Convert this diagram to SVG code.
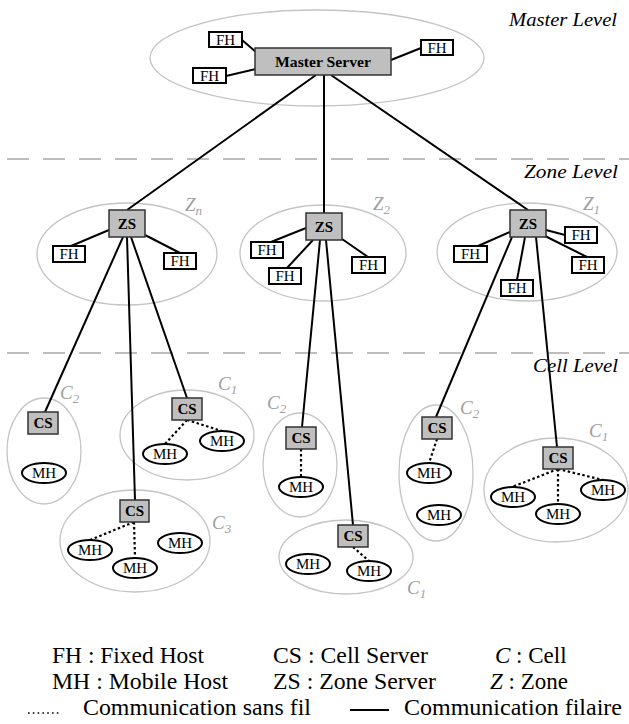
<svg xmlns="http://www.w3.org/2000/svg" width="629" height="724" viewBox="0 0 629 724">
<style>
.ell{fill:none;stroke:#c4c4c4;stroke-width:1.3}
.box{fill:#bfbfbf;stroke:#333;stroke-width:1.5}
.fh{fill:#fff;stroke:#000;stroke-width:2}
.mh{fill:#fff;stroke:#000;stroke-width:2}
.wire{stroke:#000;stroke-width:2;fill:none}
.wl{stroke:#000;stroke-width:2.2;stroke-dasharray:2.5 2.5;fill:none}
.lvl{stroke:#bdbdbd;stroke-width:2;stroke-dasharray:22 14}
.bt{font-weight:bold;font-size:15px;text-anchor:middle;fill:#000}
.ft{font-size:15px;text-anchor:middle;fill:#000}
.lv{font-style:italic;font-size:18px;text-anchor:end;fill:#000}
.gl{font-style:italic;font-size:19px;fill:#a0a0a0}
.sb{font-size:13px}
.lg{font-size:23px;fill:#000}
</style>
<g font-family="Liberation Serif, Tinos, Times New Roman, DejaVu Serif, serif">
<g id="separators">
<line class="lvl" x1="7" y1="159" x2="629" y2="159"/>
<line class="lvl" x1="7" y1="353" x2="629" y2="353"/>
<text class="lv" x="617" y="26" textLength="108" lengthAdjust="spacingAndGlyphs">Master Level</text>
<text class="lv" x="618" y="178" textLength="94" lengthAdjust="spacingAndGlyphs">Zone Level</text>
<text class="lv" x="618" y="372" textLength="85" lengthAdjust="spacingAndGlyphs">Cell Level</text>
</g>

<g id="regions">
<ellipse class="ell" cx="317" cy="58" rx="167" ry="48"/>
<ellipse class="ell" cx="127" cy="254" rx="90" ry="51"/>
<ellipse class="ell" cx="323" cy="253" rx="83" ry="48"/>
<ellipse class="ell" cx="527" cy="252" rx="90" ry="49"/>
<ellipse class="ell" cx="44" cy="451" rx="37" ry="53"/>
<ellipse class="ell" cx="187" cy="435" rx="67" ry="45"/>
<ellipse class="ell" cx="135" cy="541" rx="75" ry="51"/>
<ellipse class="ell" cx="300" cy="465" rx="37" ry="52"/>
<ellipse class="ell" cx="346" cy="557" rx="67" ry="37"/>
<ellipse class="ell" cx="436" cy="473" rx="37" ry="68"/>
<ellipse class="ell" cx="556" cy="490" rx="72" ry="52"/>
<text class="gl" x="185" y="211">Z<tspan class="sb" dy="4">n</tspan></text>
<text class="gl" x="373" y="210">Z<tspan class="sb" dy="4">2</tspan></text>
<text class="gl" x="583" y="210">Z<tspan class="sb" dy="4">1</tspan></text>
<text class="gl" x="60" y="399">C<tspan class="sb" dy="4">2</tspan></text>
<text class="gl" x="218" y="390">C<tspan class="sb" dy="4">1</tspan></text>
<text class="gl" x="212" y="529">C<tspan class="sb" dy="4">3</tspan></text>
<text class="gl" x="267" y="409">C<tspan class="sb" dy="4">2</tspan></text>
<text class="gl" x="407" y="594">C<tspan class="sb" dy="4">1</tspan></text>
<text class="gl" x="460" y="414">C<tspan class="sb" dy="4">2</tspan></text>
<text class="gl" x="589" y="437">C<tspan class="sb" dy="4">1</tspan></text>
</g>

<g id="connectors">
<line class="wire" x1="242" y1="40" x2="256" y2="52"/>
<line class="wire" x1="226" y1="76" x2="256" y2="69"/>
<line class="wire" x1="391" y1="60" x2="421" y2="48"/>
<line class="wire" x1="316" y1="75" x2="127" y2="210"/>
<line class="wire" x1="324" y1="75" x2="324" y2="213"/>
<line class="wire" x1="331" y1="75" x2="528" y2="210"/>
<line class="wire" x1="109" y1="230" x2="71" y2="246"/>
<line class="wire" x1="145" y1="235" x2="180" y2="253"/>
<line class="wire" x1="306" y1="228" x2="271" y2="242"/>
<line class="wire" x1="313" y1="240" x2="287" y2="268"/>
<line class="wire" x1="342" y1="239" x2="368" y2="257"/>
<line class="wire" x1="510" y1="232" x2="478" y2="246"/>
<line class="wire" x1="546" y1="230" x2="565" y2="235"/>
<line class="wire" x1="545" y1="236" x2="587" y2="257"/>
<line class="wire" x1="525" y1="237" x2="517" y2="280"/>
<line class="wire" x1="123" y1="237" x2="45" y2="412"/>
<line class="wire" x1="127" y1="237" x2="135" y2="500"/>
<line class="wire" x1="131" y1="237" x2="187" y2="398"/>
<line class="wire" x1="320" y1="240" x2="302" y2="427"/>
<line class="wire" x1="326" y1="240" x2="353" y2="525"/>
<line class="wire" x1="512" y1="237" x2="436" y2="417"/>
<line class="wire" x1="536" y1="237" x2="557" y2="447"/>
<line class="wl" x1="187" y1="420" x2="165" y2="444"/>
<line class="wl" x1="187" y1="420" x2="222" y2="431"/>
<line class="wl" x1="134" y1="522" x2="90" y2="540"/>
<line class="wl" x1="134" y1="522" x2="135" y2="558"/>
<line class="wl" x1="301" y1="449" x2="301" y2="477"/>
<line class="wl" x1="353" y1="547" x2="369" y2="561"/>
<line class="wl" x1="437" y1="439" x2="429" y2="463"/>
<line class="wl" x1="558" y1="469" x2="512" y2="487"/>
<line class="wl" x1="558" y1="469" x2="558" y2="504"/>
<line class="wl" x1="558" y1="469" x2="603" y2="480"/>
</g>

<g id="master-server"><rect class="box" x="255" y="48" width="136" height="27"/><text class="bt" x="323" y="67" textLength="96" lengthAdjust="spacingAndGlyphs">Master Server</text></g>
<g id="fh-m1"><rect class="fh" x="209" y="32" width="33" height="15"/><text class="ft" x="225.5" y="44.5">FH</text></g>
<g id="fh-m2"><rect class="fh" x="193" y="68" width="33" height="15"/><text class="ft" x="209.5" y="80.5">FH</text></g>
<g id="fh-m3"><rect class="fh" x="421" y="40" width="32" height="15"/><text class="ft" x="437" y="52.5">FH</text></g>

<g id="zs-n"><rect class="box" x="109" y="210" width="36" height="27"/><text class="bt" x="127" y="229">ZS</text></g>
<g id="fh-n1"><rect class="fh" x="53" y="246" width="32" height="16"/><text class="ft" x="69" y="259">FH</text></g>
<g id="fh-n2"><rect class="fh" x="164" y="253" width="32" height="16"/><text class="ft" x="180" y="266">FH</text></g>

<g id="zs-2"><rect class="box" x="306" y="213" width="36" height="27"/><text class="bt" x="324" y="232">ZS</text></g>
<g id="fh-21"><rect class="fh" x="251" y="242" width="32" height="16"/><text class="ft" x="267" y="255">FH</text></g>
<g id="fh-22"><rect class="fh" x="269" y="268" width="32" height="16"/><text class="ft" x="285" y="281">FH</text></g>
<g id="fh-23"><rect class="fh" x="352" y="257" width="33" height="16"/><text class="ft" x="368.5" y="270">FH</text></g>

<g id="zs-1"><rect class="box" x="510" y="210" width="36" height="27"/><text class="bt" x="528" y="229">ZS</text></g>
<g id="fh-11"><rect class="fh" x="454" y="246" width="33" height="16"/><text class="ft" x="470.5" y="259">FH</text></g>
<g id="fh-12"><rect class="fh" x="565" y="227" width="32" height="16"/><text class="ft" x="581" y="240">FH</text></g>
<g id="fh-13"><rect class="fh" x="572" y="257" width="32" height="16"/><text class="ft" x="588" y="270">FH</text></g>
<g id="fh-14"><rect class="fh" x="501" y="280" width="32" height="16"/><text class="ft" x="517" y="293">FH</text></g>

<g id="cs-n2"><rect class="box" x="28" y="412" width="30" height="22"/><text class="bt" x="43" y="428">CS</text></g>
<g id="mh-n2a"><ellipse class="mh" cx="44" cy="473" rx="22" ry="10"/><text class="ft" x="44" y="478">MH</text></g>
<g id="cs-n1"><rect class="box" x="172" y="398" width="30" height="22"/><text class="bt" x="187" y="414">CS</text></g>
<g id="mh-n1a"><ellipse class="mh" cx="165" cy="454" rx="22" ry="10"/><text class="ft" x="165" y="459">MH</text></g>
<g id="mh-n1b"><ellipse class="mh" cx="222" cy="441" rx="22" ry="10"/><text class="ft" x="222" y="446">MH</text></g>
<g id="cs-n3"><rect class="box" x="120" y="500" width="29" height="22"/><text class="bt" x="134.5" y="516">CS</text></g>
<g id="mh-n3a"><ellipse class="mh" cx="90" cy="550" rx="22" ry="10"/><text class="ft" x="90" y="555">MH</text></g>
<g id="mh-n3b"><ellipse class="mh" cx="135" cy="568" rx="22" ry="10"/><text class="ft" x="135" y="573">MH</text></g>
<g id="mh-n3c"><ellipse class="mh" cx="180" cy="543" rx="22" ry="10"/><text class="ft" x="180" y="548">MH</text></g>

<g id="cs-22"><rect class="box" x="286" y="427" width="30" height="22"/><text class="bt" x="301" y="443">CS</text></g>
<g id="mh-22a"><ellipse class="mh" cx="301" cy="487" rx="22" ry="10"/><text class="ft" x="301" y="492">MH</text></g>
<g id="cs-21"><rect class="box" x="338" y="525" width="30" height="22"/><text class="bt" x="353" y="541">CS</text></g>
<g id="mh-21a"><ellipse class="mh" cx="308" cy="564" rx="22" ry="10"/><text class="ft" x="308" y="569">MH</text></g>
<g id="mh-21b"><ellipse class="mh" cx="369" cy="571" rx="22" ry="10"/><text class="ft" x="369" y="576">MH</text></g>

<g id="cs-12"><rect class="box" x="422" y="417" width="30" height="22"/><text class="bt" x="437" y="433">CS</text></g>
<g id="mh-12a"><ellipse class="mh" cx="429" cy="473" rx="22" ry="10"/><text class="ft" x="429" y="478">MH</text></g>
<g id="mh-12b"><ellipse class="mh" cx="439" cy="515" rx="22" ry="10"/><text class="ft" x="439" y="520">MH</text></g>
<g id="cs-11"><rect class="box" x="543" y="447" width="30" height="22"/><text class="bt" x="558" y="463">CS</text></g>
<g id="mh-11a"><ellipse class="mh" cx="513" cy="497" rx="22" ry="10"/><text class="ft" x="513" y="502">MH</text></g>
<g id="mh-11b"><ellipse class="mh" cx="558" cy="514" rx="22" ry="10"/><text class="ft" x="558" y="519">MH</text></g>
<g id="mh-11c"><ellipse class="mh" cx="603" cy="490" rx="22" ry="10"/><text class="ft" x="603" y="495">MH</text></g>

<g id="legend">
<text class="lg" x="52" y="663" textLength="152" lengthAdjust="spacingAndGlyphs">FH : Fixed Host</text>
<text class="lg" x="273" y="663" textLength="155" lengthAdjust="spacingAndGlyphs">CS : Cell Server</text>
<text class="lg" x="495" y="663"><tspan font-style="italic">C</tspan> : Cell</text>
<text class="lg" x="52" y="689" textLength="176" lengthAdjust="spacingAndGlyphs">MH : Mobile Host</text>
<text class="lg" x="273" y="689" textLength="163" lengthAdjust="spacingAndGlyphs">ZS : Zone Server</text>
<text class="lg" x="490" y="689"><tspan font-style="italic">Z</tspan> : Zone</text>
<line x1="28" y1="713" x2="61" y2="713" stroke="#000" stroke-width="1.6" stroke-dasharray="1.6 3.2"/>
<text class="lg" x="83" y="715" textLength="228" lengthAdjust="spacingAndGlyphs">Communication sans fil</text>
<line x1="350" y1="710" x2="389" y2="710" stroke="#000" stroke-width="2"/>
<text class="lg" x="404" y="715" textLength="218" lengthAdjust="spacingAndGlyphs">Communication filaire</text>
</g>
</g>
</svg>
